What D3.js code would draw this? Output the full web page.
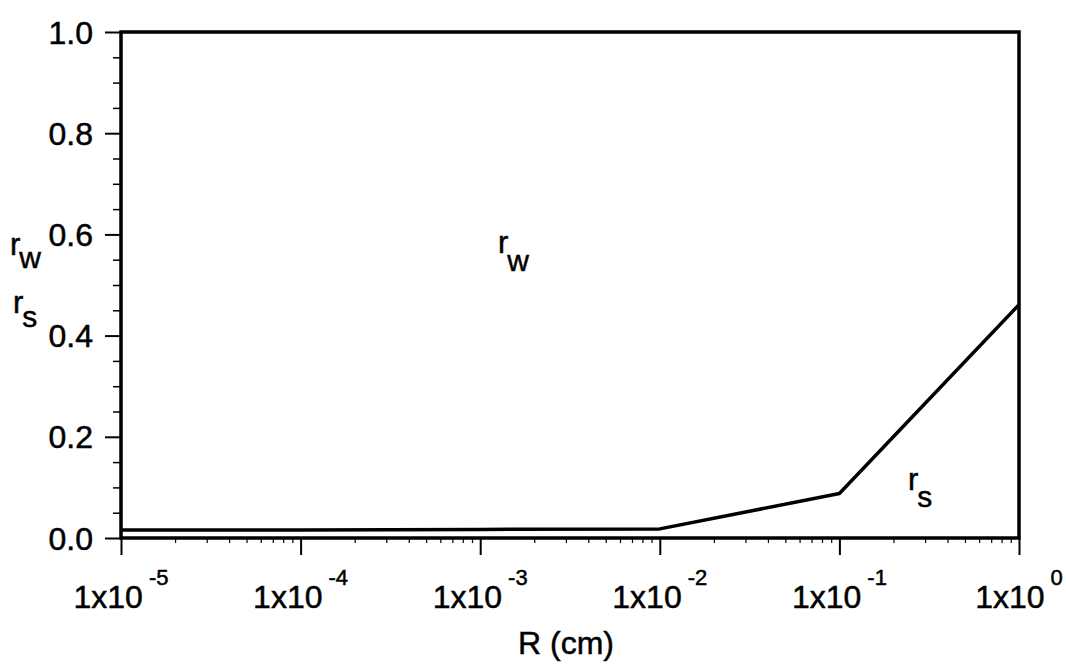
<!DOCTYPE html>
<html>
<head>
<meta charset="utf-8">
<script src="https://cdn.jsdelivr.net/npm/d3@7"></script>
<style>
  html, body { margin: 0; padding: 0; background: #fff; }
  svg { display: block; }
  text { font-family: Arial, "Liberation Sans", sans-serif; fill: #000; stroke: #000; stroke-width: 0.5px; }
</style>
</head>
<body>
<svg id="chart" width="1066" height="665"></svg>
<script>
// ---- data ----
const radius = [1e-5, 1e-4, 1e-3, 1e-2, 1e-1, 1e0];
const rsValues = [0.016, 0.016, 0.017, 0.018, 0.088, 0.461];
const xTickValues = [1e-5, 1e-4, 1e-3, 1e-2, 1e-1, 1e0];
const xTickExponents = ["-5", "-4", "-3", "-2", "-1", "0"];
const yTickValues = [0.0, 0.2, 0.4, 0.6, 0.8, 1.0];
const yTickLabels = ["0.0", "0.2", "0.4", "0.6", "0.8", "1.0"];
const xTitle = "R (cm)";

// ---- layout ----
const plotL = 121, plotR = 1019, plotT = 32, plotB = 538;
const svg = d3.select("#chart");
const x = d3.scaleLog().domain([1e-5, 1]).range([plotL, plotR]);
const y = d3.scaleLinear().domain([0, 1]).range([plotB, plotT]);

// minor tick values
const xMinor = [];
for (let e = -5; e < 0; e++) for (let k = 2; k <= 9; k++) xMinor.push(k * Math.pow(10, e));
const yMinor = d3.range(0, 1.0001, 0.05).filter(v => Math.abs(Math.round(v * 5) - v * 5) > 1e-6);

// y axis minor
svg.append("g").attr("transform", `translate(${plotL},0)`)
  .call(d3.axisLeft(y).tickValues(yMinor).tickSize(8).tickFormat(""))
  .call(g => g.select(".domain").remove())
  .call(g => g.selectAll("line").attr("stroke", "#000").attr("stroke-width", 1.5));
// y axis major
svg.append("g").attr("transform", `translate(${plotL},0)`)
  .call(d3.axisLeft(y).tickValues(yTickValues).tickSize(16).tickFormat(""))
  .call(g => g.select(".domain").remove())
  .call(g => g.selectAll("line").attr("stroke", "#000").attr("stroke-width", 2));
// y labels
svg.append("g").selectAll("text").data(yTickValues).join("text")
  .attr("x", 93).attr("y", d => y(d)).attr("dy", "0.36em")
  .attr("text-anchor", "end").attr("font-size", 32)
  .text((d, i) => yTickLabels[i]);

// x axis minor
svg.append("g").attr("transform", `translate(0,${plotB})`)
  .call(d3.axisBottom(x).tickValues(xMinor).tickSize(5).tickFormat(""))
  .call(g => g.select(".domain").remove())
  .call(g => g.selectAll("line").attr("stroke", "#000").attr("stroke-width", 1.2));
// x axis major
svg.append("g").attr("transform", `translate(0,${plotB})`)
  .call(d3.axisBottom(x).tickValues(xTickValues).tickSize(17).tickFormat(""))
  .call(g => g.select(".domain").remove())
  .call(g => g.selectAll("line").attr("stroke", "#000").attr("stroke-width", 2));
// x labels 1x10^n
const xl = svg.append("g").selectAll("text").data(xTickValues).join("text")
  .attr("x", d => x(d)).attr("y", 608)
  .attr("text-anchor", "middle").attr("font-size", 32);
xl.append("tspan").text("1x10");
xl.append("tspan").attr("dx", 6).attr("dy", -23).attr("font-size", 22)
  .text((d, i) => xTickExponents[i]);

// frame
svg.append("rect").attr("x", plotL).attr("y", plotT)
  .attr("width", plotR - plotL).attr("height", plotB - plotT)
  .attr("fill", "none").attr("stroke", "#000").attr("stroke-width", 3.5);

// curve
const line = d3.line().x((d, i) => x(radius[i])).y(d => y(d));
svg.append("path").datum(rsValues).attr("d", line)
  .attr("fill", "none").attr("stroke", "#000").attr("stroke-width", 3.5)
  .attr("stroke-linejoin", "round");

// axis title
svg.append("text").attr("x", (plotL + plotR) / 2 - 4).attr("y", 654)
  .attr("text-anchor", "middle").attr("font-size", 32).text(xTitle);

// subscript labels
function subLabel(xPos, yPos, sub, drop) {
  const t = svg.append("text").attr("x", xPos).attr("y", yPos).attr("font-size", 31);
  t.append("tspan").text("r");
  t.append("tspan").attr("dx", -1).attr("dy", drop).attr("font-size", 30).text(sub);
}
subLabel(10, 255, "w", 13);
subLabel(13, 313, "s", 14);
subLabel(498, 253, "w", 18);
subLabel(908, 490, "s", 17);
</script>
</body>
</html>
